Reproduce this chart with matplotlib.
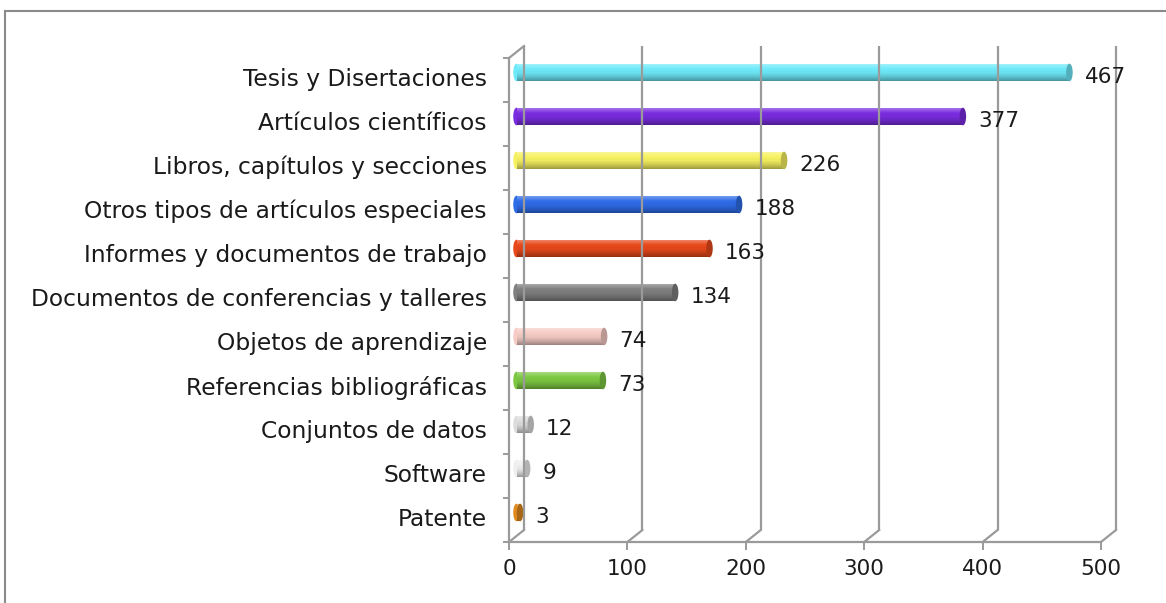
import matplotlib
matplotlib.use("Agg")
import matplotlib.pyplot as plt
import matplotlib.transforms as mtransforms
from matplotlib.patches import Ellipse, Rectangle
import matplotlib.colors as mcolors

categories = ["Tesis y Disertaciones", "Artículos científicos", "Libros, capítulos y secciones",
              "Otros tipos de artículos especiales", "Informes y documentos de trabajo",
              "Documentos de conferencias y talleres", "Objetos de aprendizaje",
              "Referencias bibliográficas", "Conjuntos de datos", "Software", "Patente"]
values = [467, 377, 226, 188, 163, 134, 74, 73, 12, 9, 3]
colors = ["#6EE9F9", "#7A2CE0", "#F6F160", "#2F6CE8", "#E8481A", "#7F7F7F",
          "#F6CBC5", "#7DC843", "#DCDCDC", "#EFEFEF", "#E0891E"]
xticks = [0, 100, 200, 300, 400, 500]

W, H = 1166, 603
fig = plt.figure(figsize=(W / 100, H / 100), dpi=100)
plt.rcParams['font.family'] = ['DejaVu Sans']
FS = 15.5
FSL = 16.8
TC = "#1a1a1a"

# figure border (left and top visible)
fig.add_artist(plt.Line2D([5 / W, 5 / W], [0, 1 - 11 / H], transform=fig.transFigure,
                          color="#8a8a8a", lw=1.5))
fig.add_artist(plt.Line2D([5 / W, 1], [1 - 11 / H, 1 - 11 / H], transform=fig.transFigure,
                          color="#8a8a8a", lw=1.5))

left, right, top, bottom = 509, 1101, 58, 542
ax = fig.add_axes([left / W, 1 - bottom / H, (right - left) / W, (bottom - top) / H])
ax.set_xlim(0, 500)
n = len(categories)
ax.set_ylim(n - 0.5, -0.5)
for s in ax.spines.values():
    s.set_visible(False)

dx, dy = 15 / 100, 12 / 100
back = ax.transData + mtransforms.ScaledTranslation(dx, dy, fig.dpi_scale_trans)
mid = ax.transData + mtransforms.ScaledTranslation(dx / 2, dy / 2 + 0.015, fig.dpi_scale_trans)
gc = "#9a9a9a"
glw = 1.6

# back wall grid lines
for xv in xticks:
    ax.plot([xv, xv], [n - 0.5, -0.5], color=gc, lw=glw, transform=back, clip_on=False,
            solid_capstyle='butt')
# floor diagonals
for xv in xticks:
    p0 = ax.transData.transform((xv, n - 0.5))
    p1 = p0 + [dx * 100, dy * 100]
    fig.add_artist(plt.Line2D([p0[0] / W, p1[0] / W], [p0[1] / H, p1[1] / H],
                              transform=fig.transFigure, color=gc, lw=glw))
# left wall front edge and top diagonal
ax.plot([0, 0], [n - 0.5, -0.5], color=gc, lw=glw, clip_on=False)
p0 = ax.transData.transform((0, -0.5))
p1 = p0 + [dx * 100, dy * 100]
fig.add_artist(plt.Line2D([p0[0] / W, p1[0] / W], [p0[1] / H, p1[1] / H],
                          transform=fig.transFigure, color=gc, lw=glw))
# floor front edge
ax.plot([0, 500], [n - 0.5, n - 0.5], color=gc, lw=glw, clip_on=False)

# bars as shaded cylinders
bh = 0.40
nstripes = 16
ypos = list(range(n))
for yi, v, c in zip(ypos, values, colors):
    base = mcolors.to_rgb(c)
    ax.add_patch(Ellipse((0, yi), 5.5, bh, facecolor=base, edgecolor='none',
                         transform=mid, clip_on=False))
    for k in range(nstripes):
        t = k / (nstripes - 1)  # 0 top -> 1 bottom
        if t < 0.3:
            f = 0.3 * (1 - t / 0.3)
            col = tuple(min(1, b + (1 - b) * f) for b in base)
        else:
            f = 1.0 - 0.35 * ((t - 0.3) / 0.7) ** 1.6
            col = tuple(b * f for b in base)
        y0 = yi - bh / 2 + k * bh / nstripes
        ax.add_patch(Rectangle((0, y0), v, bh / nstripes + 0.002, facecolor=col,
                               edgecolor='none', transform=mid, clip_on=False))
    dark = tuple(b * 0.75 for b in base)
    ax.add_patch(Ellipse((v, yi), 5.5, bh, facecolor=dark, edgecolor='none',
                         transform=mid, clip_on=False))
    ax.annotate(str(v), xy=(v, yi), xycoords=mid, xytext=(11, -3), textcoords='offset points',
                ha='left', va='center', fontsize=FS, color=TC)

# ticks
ax.set_yticks(ypos)
ax.set_yticklabels(categories, fontsize=FSL, color=TC)
ax.set_yticks([i - 0.5 for i in range(n + 1)], minor=True)
ax.tick_params(axis='y', which='major', length=0, pad=16)
ax.tick_params(axis='y', which='minor', length=4, color=gc, width=1.4)
shift = mtransforms.ScaledTranslation(0, 0.03, fig.dpi_scale_trans)
for lab in ax.get_yticklabels():
    lab.set_transform(lab.get_transform() + shift)
ax.set_xticks(xticks)
ax.set_xticklabels([str(x) for x in xticks], fontsize=FS, color=TC)
ax.tick_params(axis='x', length=6, color=gc, width=1.4, pad=6)
ax.patch.set_visible(False)

fig.savefig("out.png", dpi=100)
